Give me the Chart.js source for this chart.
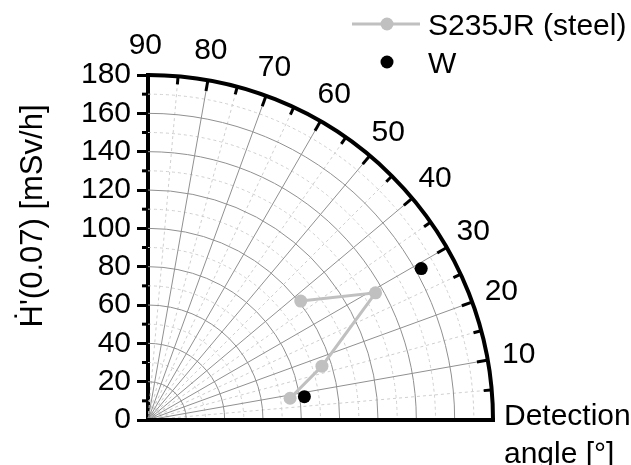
<!DOCTYPE html>
<html>
<head>
<meta charset="utf-8">
<script src="https://cdn.jsdelivr.net/npm/chart.js@4.4.0/dist/chart.umd.min.js"></script>
<style>
  html, body { margin: 0; padding: 0; background: #fff; }
  #wrap { width: 631px; height: 465px; }
</style>
</head>
<body>
<div id="wrap"><canvas id="chart" width="631" height="465"></canvas></div>
<script>
// Data (angle in degrees, dose rate in mSv/h)
const steelAngles = [8.7, 17.2, 29.2, 37.9];
const steelDose = [75, 95, 136, 101];
const wAngles = [8.5, 29.0];
const wDose = [82.5, 163];

const angleTicks = [10, 20, 30, 40, 50, 60, 70, 80, 90];
const doseMax = 180;

const FONT = '"Liberation Sans", Arial, "DejaVu Sans", sans-serif';

// polar -> cartesian values for the scatter scales
function toXY(angles, values) {
    return angles.map((a, i) => {
        const t = a * Math.PI / 180;
        return { x: values[i] * Math.cos(t), y: values[i] * Math.sin(t) };
    });
}

const polarGrid = {
    id: 'polarGrid',
    beforeDatasetsDraw(chart) {
        const ctx = chart.ctx;
        const xs = chart.scales.x, ys = chart.scales.y;
        const cx = xs.getPixelForValue(0);
        const cy = ys.getPixelForValue(0);
        const rad = v => xs.getPixelForValue(v) - cx;
        const R = rad(doseMax);
        const d2r = Math.PI / 180;

        ctx.save();
        // dashed minor grid
        ctx.strokeStyle = '#cfcfcf';
        ctx.lineWidth = 1;
        ctx.setLineDash([3, 3]);
        for (let v = 10; v < doseMax; v += 20) {
            ctx.beginPath();
            ctx.arc(cx, cy, rad(v), -Math.PI / 2, 0);
            ctx.stroke();
        }
        for (let a = 5; a < 90; a += 10) {
            ctx.beginPath();
            ctx.moveTo(cx, cy);
            ctx.lineTo(cx + R * Math.cos(a * d2r), cy - R * Math.sin(a * d2r));
            ctx.stroke();
        }
        // solid major grid
        ctx.setLineDash([]);
        ctx.strokeStyle = '#909090';
        for (let v = 20; v < doseMax; v += 20) {
            ctx.beginPath();
            ctx.arc(cx, cy, rad(v), -Math.PI / 2, 0);
            ctx.stroke();
        }
        for (let a = 10; a < 90; a += 10) {
            ctx.beginPath();
            ctx.moveTo(cx, cy);
            ctx.lineTo(cx + R * Math.cos(a * d2r), cy - R * Math.sin(a * d2r));
            ctx.stroke();
        }

        // outer arc and bottom axis
        ctx.strokeStyle = '#000';
        ctx.lineWidth = 4;
        ctx.beginPath();
        ctx.arc(cx, cy, R, -Math.PI / 2, 0);
        ctx.stroke();
        ctx.beginPath();
        ctx.moveTo(cx - 2, cy);
        ctx.lineTo(cx + R + 2, cy);
        ctx.stroke();

        // ticks on the arc (inward)
        ctx.lineWidth = 3;
        for (let a = 5; a < 90; a += 5) {
            const len = a % 10 === 0 ? 10 : 7;
            const c = Math.cos(a * d2r), s = Math.sin(a * d2r);
            ctx.beginPath();
            ctx.moveTo(cx + (R - 1) * c, cy - (R - 1) * s);
            ctx.lineTo(cx + (R - 1 - len) * c, cy - (R - 1 - len) * s);
            ctx.stroke();
        }
        // minor ticks on the dose axis
        for (let v = 10; v < doseMax; v += 20) {
            const y = ys.getPixelForValue(v);
            ctx.beginPath();
            ctx.moveTo(cx - 6, y);
            ctx.lineTo(cx, y);
            ctx.stroke();
        }

        // angle labels
        ctx.fillStyle = '#000';
        ctx.font = '30px ' + FONT;
        ctx.textAlign = 'center';
        ctx.textBaseline = 'alphabetic';
        angleTicks.forEach(a => {
            const t = (a + 0.4) * d2r;
            const lx = cx + (R + 32) * Math.cos(t);
            const ly = cy - (R + 32) * Math.sin(t);
            ctx.fillText(String(a), lx, ly + 11);
        });

        // angle axis title
        ctx.textAlign = 'left';
        ctx.fillText('Detection', 504, 425);
        ctx.fillText('angle [°]', 504, 463);

        // dose axis title
        ctx.save();
        ctx.translate(33, 216);
        ctx.rotate(-Math.PI / 2);
        ctx.textAlign = 'center';
        ctx.textBaseline = 'middle';
        ctx.font = '31px ' + FONT;
        ctx.fillText('\u1E22\'(0.07) [mSv/h]', 0, 0);
        ctx.restore();

        // legend
        ctx.strokeStyle = '#c0c0c0';
        ctx.lineWidth = 3;
        ctx.beginPath();
        ctx.moveTo(352, 24);
        ctx.lineTo(420, 24);
        ctx.stroke();
        ctx.fillStyle = '#c0c0c0';
        ctx.beginPath();
        ctx.arc(387, 24, 6.5, 0, Math.PI * 2);
        ctx.fill();
        ctx.fillStyle = '#000';
        ctx.beginPath();
        ctx.arc(387, 62, 6.5, 0, Math.PI * 2);
        ctx.fill();
        ctx.font = '30px ' + FONT;
        ctx.textAlign = 'left';
        ctx.fillText('S235JR (steel)', 428, 35);
        ctx.fillText('W', 428, 73);
        ctx.restore();
    }
};

const chart = new Chart(document.getElementById('chart'), {
    type: 'scatter',
    data: {
        datasets: [{
            label: 'S235JR (steel)',
            data: toXY(steelAngles, steelDose),
            showLine: true,
            borderColor: '#c0c0c0',
            borderWidth: 3,
            backgroundColor: '#c0c0c0',
            pointRadius: 6.5,
            pointBorderWidth: 0
        }, {
            label: 'W',
            data: toXY(wAngles, wDose),
            borderColor: '#000',
            backgroundColor: '#000',
            pointRadius: 6.5,
            pointBorderWidth: 0
        }]
    },
    options: {
        responsive: false,
        animation: false,
        layout: { padding: { left: 0, top: 75, right: 138, bottom: 45 } },
        plugins: { legend: { display: false }, tooltip: { enabled: false } },
        scales: {
            x: { type: 'linear', min: 0, max: doseMax, display: false },
            y: {
                type: 'linear',
                min: 0,
                max: doseMax,
                afterFit(scale) { scale.width = 148; },
                ticks: {
                    stepSize: 20,
                    autoSkip: false,
                    color: '#000',
                    padding: 6,
                    font: { family: FONT, size: 30 }
                },
                grid: {
                    drawOnChartArea: false,
                    drawTicks: true,
                    tickLength: 11,
                    tickWidth: 3,
                    tickColor: '#000'
                },
                border: { display: true, color: '#000', width: 4 }
            }
        }
    },
    plugins: [polarGrid]
});
</script>
</body>
</html>
